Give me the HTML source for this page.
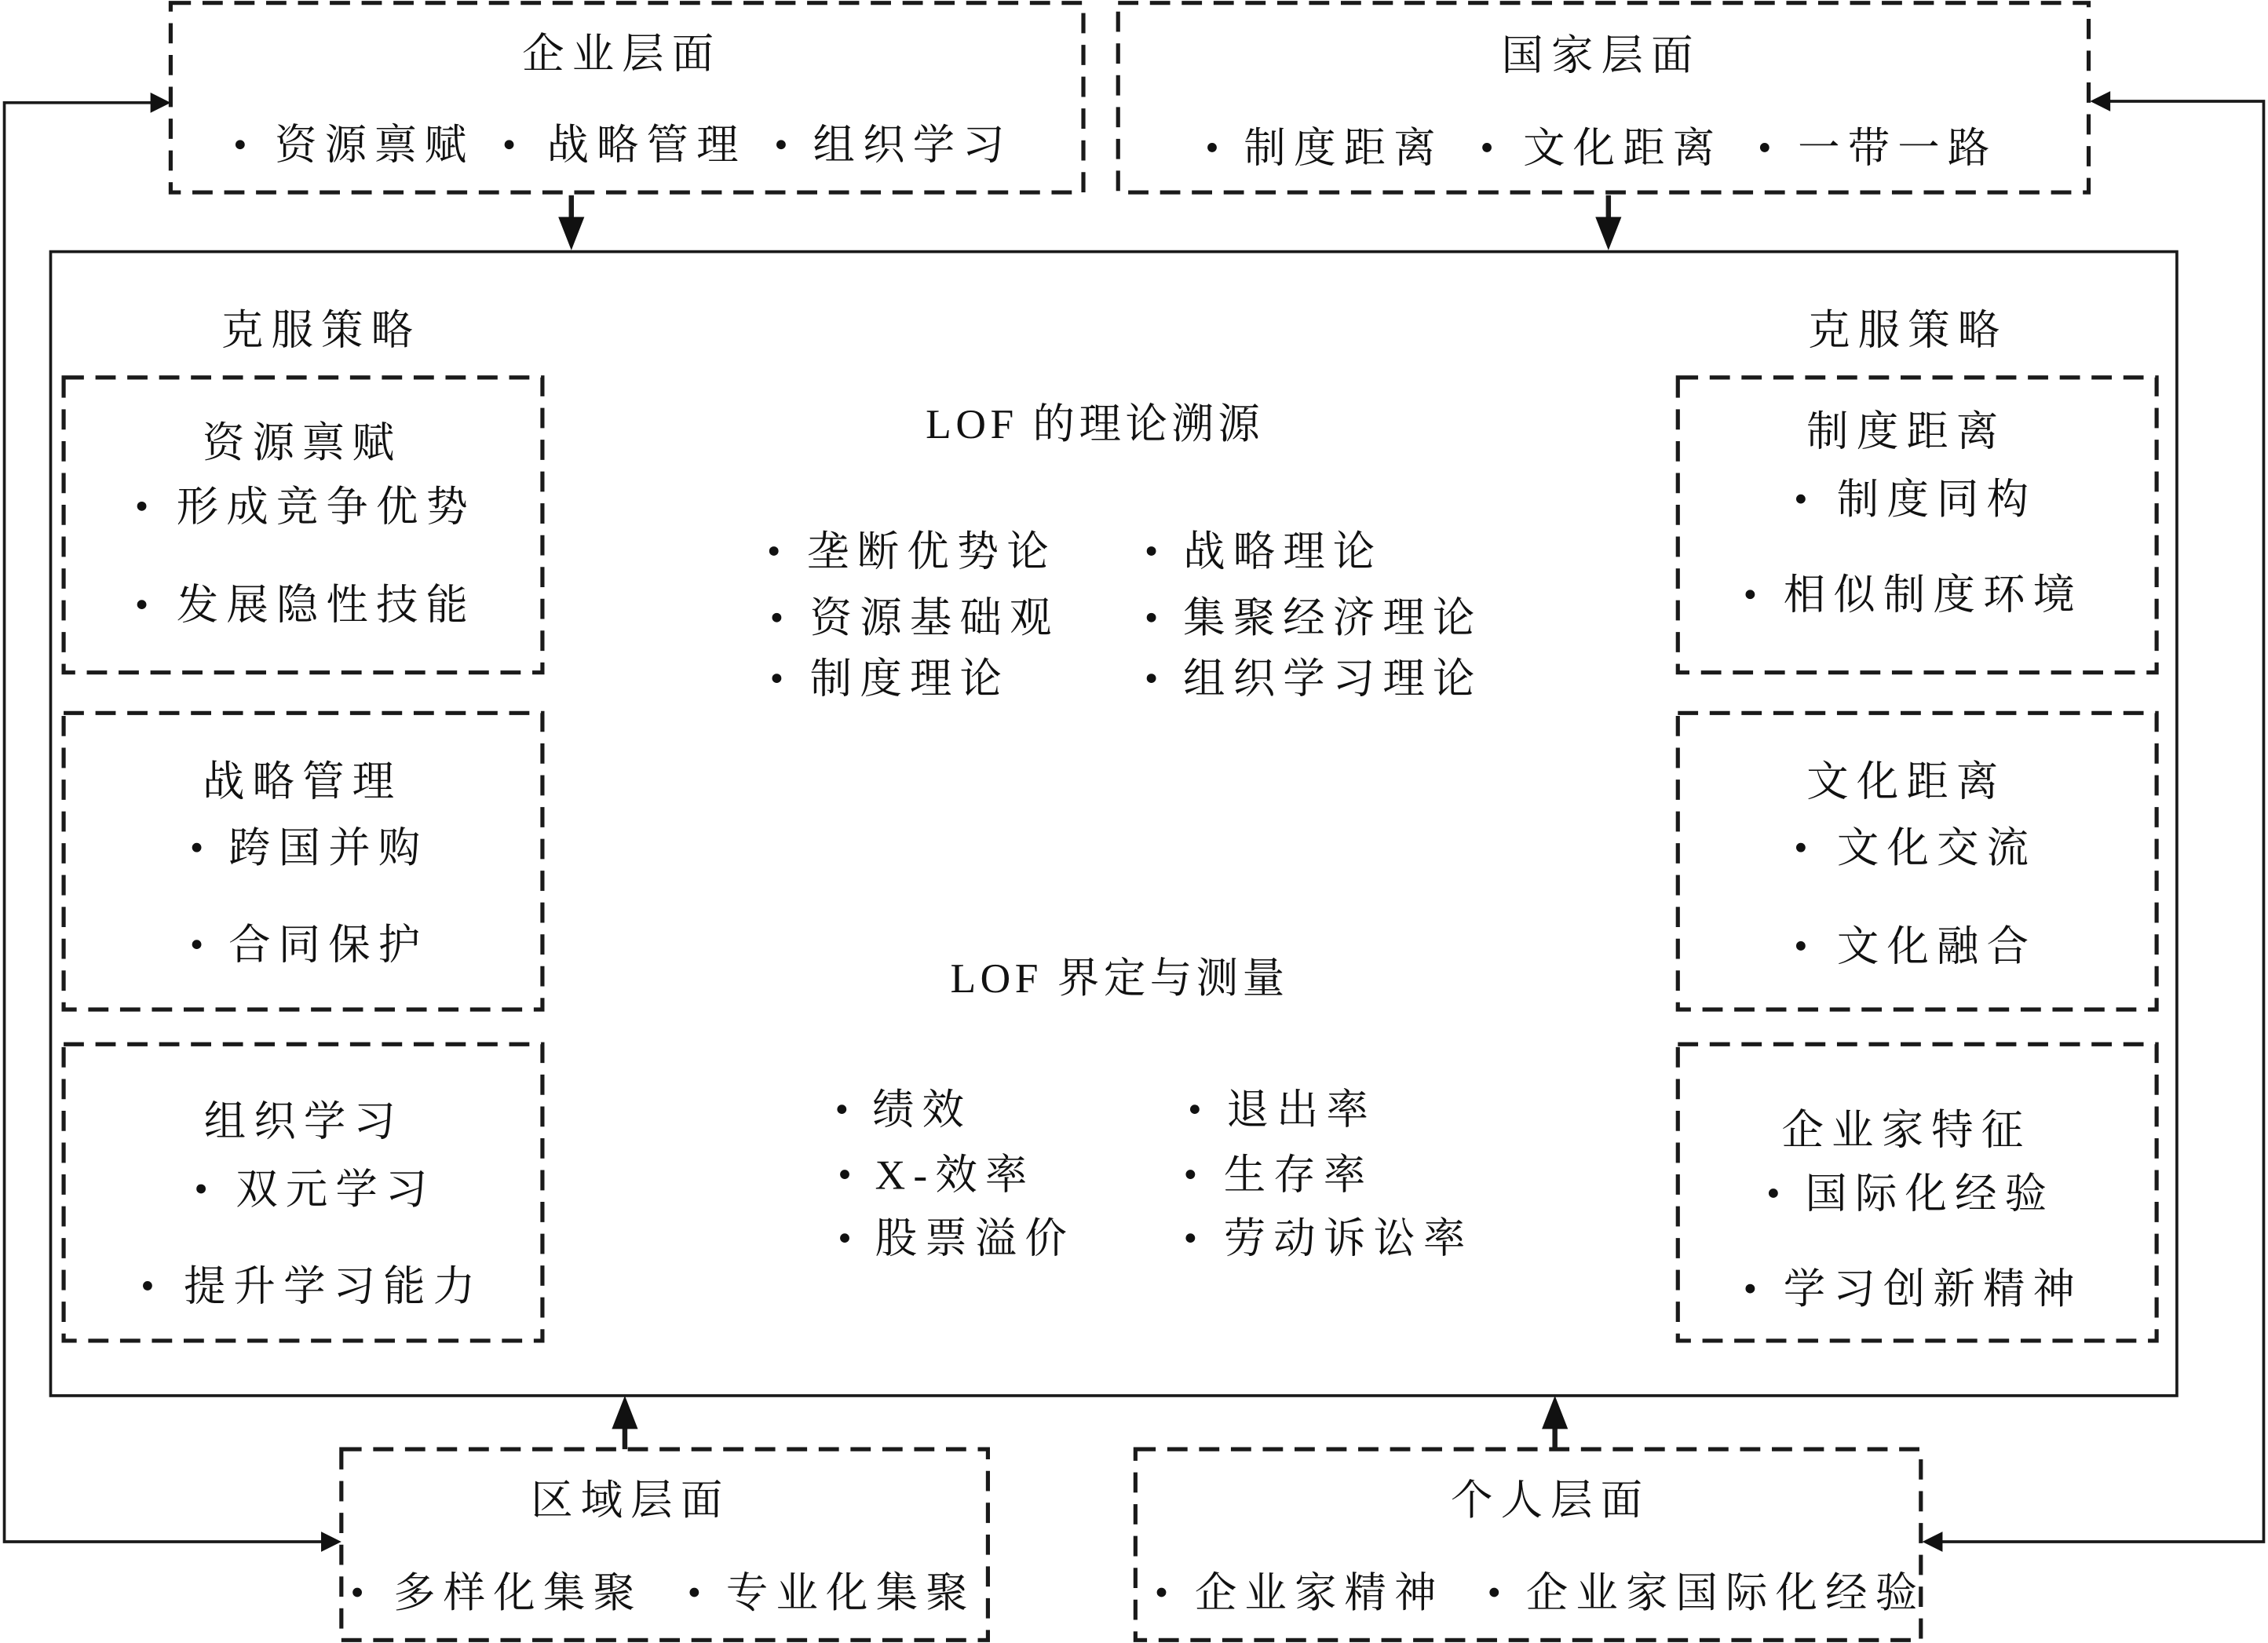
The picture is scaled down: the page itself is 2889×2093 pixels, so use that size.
<!DOCTYPE html>
<html><head><meta charset="utf-8"><style>
html,body{margin:0;padding:0;background:#fff;}
svg{display:block}
text{font-family:"Liberation Serif","Noto Serif CJK SC",serif;font-size:29px;fill:#111;letter-spacing:5.5px}
text.l{letter-spacing:3px}
</style></head><body>
<svg width="2889" height="2093" viewBox="0 0 1568 1136" preserveAspectRatio="none" xmlns="http://www.w3.org/2000/svg">
<g fill="none" stroke="#1a1a1a" stroke-width="2.8" stroke-dasharray="14,8">
<rect x="118" y="2" width="631" height="131"/>
<rect x="773" y="2" width="671" height="131"/>
<rect x="44" y="261" width="331" height="204"/>
<rect x="44" y="493" width="331" height="205"/>
<rect x="44" y="722" width="331" height="205"/>
<rect x="1160" y="261" width="331" height="204"/>
<rect x="1160" y="493" width="331" height="205"/>
<rect x="1160" y="722" width="331" height="205"/>
<rect x="236" y="1002" width="447" height="132"/>
<rect x="785" y="1002" width="543" height="132"/>
</g>
<rect x="35" y="174" width="1470" height="791" fill="none" stroke="#1a1a1a" stroke-width="2"/>
<g fill="none" stroke="#1a1a1a" stroke-width="2">
<polyline points="108,71 3,71 3,1066 226,1066"/>
<polyline points="1456,70 1565,70 1565,1066 1340,1066"/>
<line x1="395" y1="135" x2="395" y2="158" stroke-width="3.5"/>
<line x1="1112" y1="135" x2="1112" y2="158" stroke-width="3.5"/>
<line x1="432" y1="1002" x2="432" y2="980" stroke-width="3.5"/>
<line x1="1075" y1="1002" x2="1075" y2="980" stroke-width="3.5"/>
</g>
<g fill="#111">
<polygon points="118,71 104,64 104,78"/>
<polygon points="236,1066 222,1059 222,1073"/>
<polygon points="1445,70 1459,63 1459,77"/>
<polygon points="1329,1066 1343,1059 1343,1073"/>
<polygon points="395,173 386,150 404,150"/>
<polygon points="1112,173 1103,150 1121,150"/>
<polygon points="432,965 423,988 441,988"/>
<polygon points="1075,965 1066,988 1084,988"/>
</g>
<g fill="#111">
<circle cx="166" cy="100" r="3.2"/><circle cx="352" cy="100" r="3.2"/><circle cx="540" cy="100" r="3.2"/>
<circle cx="838" cy="102" r="3.2"/><circle cx="1028" cy="102" r="3.2"/><circle cx="1220" cy="102" r="3.2"/>
<circle cx="98" cy="350" r="3.2"/><circle cx="98" cy="418" r="3.2"/>
<circle cx="136" cy="586" r="3.2"/><circle cx="136" cy="653" r="3.2"/>
<circle cx="139" cy="822" r="3.2"/><circle cx="102" cy="889" r="3.2"/>
<circle cx="1245" cy="345" r="3.2"/><circle cx="1210" cy="411" r="3.2"/>
<circle cx="1245" cy="586" r="3.2"/><circle cx="1245" cy="654" r="3.2"/>
<circle cx="1226" cy="825" r="3.2"/><circle cx="1210" cy="891" r="3.2"/>
<circle cx="535" cy="381" r="3.2"/><circle cx="537" cy="427" r="3.2"/><circle cx="537" cy="469" r="3.2"/>
<circle cx="796" cy="381" r="3.2"/><circle cx="796" cy="427" r="3.2"/><circle cx="796" cy="469" r="3.2"/>
<circle cx="582" cy="767" r="3.2"/><circle cx="584" cy="812" r="3.2"/><circle cx="584" cy="856" r="3.2"/>
<circle cx="826" cy="767" r="3.2"/><circle cx="823" cy="812" r="3.2"/><circle cx="823" cy="856" r="3.2"/>
<circle cx="247" cy="1101" r="3.2"/><circle cx="480" cy="1101" r="3.2"/>
<circle cx="803" cy="1101" r="3.2"/><circle cx="1033" cy="1101" r="3.2"/>
</g>
<g>
<text x="430" y="47" text-anchor="middle">企业层面</text>
<text x="190" y="110">资源禀赋</text><text x="378" y="110">战略管理</text><text x="562" y="110">组织学习</text>
<text x="1107" y="48" text-anchor="middle">国家层面</text>
<text x="860" y="112">制度距离</text><text x="1053" y="112">文化距离</text><text x="1243" y="112">一带一路</text>
<text x="222" y="238" text-anchor="middle">克服策略</text>
<text x="1319" y="238" text-anchor="middle">克服策略</text>
<text x="209" y="316" text-anchor="middle">资源禀赋</text>
<text x="122" y="360">形成竞争优势</text><text x="122" y="428">发展隐性技能</text>
<text x="209" y="550" text-anchor="middle">战略管理</text>
<text x="158" y="596">跨国并购</text><text x="158" y="663">合同保护</text>
<text x="210" y="785" text-anchor="middle">组织学习</text>
<text x="163" y="832">双元学习</text><text x="127" y="899">提升学习能力</text>
<text x="1318" y="308" text-anchor="middle">制度距离</text>
<text x="1270" y="355">制度同构</text><text x="1233" y="421">相似制度环境</text>
<text x="1318" y="550" text-anchor="middle">文化距离</text>
<text x="1270" y="596">文化交流</text><text x="1270" y="664">文化融合</text>
<text x="1318" y="791" text-anchor="middle">企业家特征</text>
<text x="1248" y="835">国际化经验</text><text x="1233" y="901">学习创新精神</text>
<text class="l" x="640" y="303">LOF 的理论溯源</text>
<text x="558" y="391">垄断优势论</text><text x="560" y="437">资源基础观</text><text x="560" y="479">制度理论</text>
<text x="818" y="391">战略理论</text><text x="818" y="437">集聚经济理论</text><text x="818" y="479">组织学习理论</text>
<text class="l" x="657" y="686">LOF 界定与测量</text>
<text x="603" y="777">绩效</text><text x="605" y="822">X-效率</text><text x="605" y="866">股票溢价</text>
<text x="848" y="777">退出率</text><text x="846" y="822">生存率</text><text x="846" y="866">劳动诉讼率</text>
<text x="436" y="1047" text-anchor="middle">区域层面</text>
<text x="272" y="1111">多样化集聚</text><text x="502" y="1111">专业化集聚</text>
<text x="1072" y="1047" text-anchor="middle">个人层面</text>
<text x="826" y="1111">企业家精神</text><text x="1055" y="1111">企业家国际化经验</text>
</g>
</svg>
</body></html>
